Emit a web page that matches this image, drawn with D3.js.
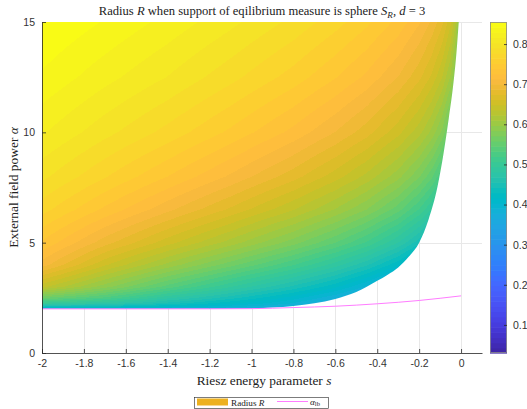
<!DOCTYPE html>
<html>
<head>
<meta charset="utf-8">
<script src="https://cdn.jsdelivr.net/npm/d3@7"></script>
<style>
  body { margin: 0; background: #fff; }
  svg { display: block; }
</style>
</head>
<body>
<div id="chart"></div>
<script>
// grid of the surface: columns = s, rows = alpha
const sGrid = [-2, -1.7, -1.4, -1.1, -0.8, -0.6, -0.45, -0.3, -0.2, -0.14, -0.09, -0.05, -0.025, -0.01];
const alphaGrid = [2, 2.25, 2.5, 3, 4, 5, 6.5, 8, 10, 12.5, 15];
const radiusGrid = [
  [0.400, 0.400, 0.390, 0.380, 0.362, 0.340, 0.300, 0.250, 0.210, 0.180, 0.150, 0.110, 0.080, 0.050],
  [0.500, 0.480, 0.450, 0.420, 0.390, 0.360, 0.330, 0.280, 0.240, 0.210, 0.175, 0.135, 0.100, 0.066],
  [0.560, 0.530, 0.485, 0.448, 0.410, 0.380, 0.350, 0.305, 0.265, 0.232, 0.196, 0.156, 0.120, 0.083],
  [0.640, 0.590, 0.540, 0.495, 0.452, 0.420, 0.388, 0.345, 0.305, 0.274, 0.240, 0.199, 0.159, 0.118],
  [0.707, 0.651, 0.606, 0.564, 0.521, 0.488, 0.458, 0.419, 0.383, 0.353, 0.319, 0.277, 0.235, 0.187],
  [0.737, 0.693, 0.654, 0.617, 0.577, 0.546, 0.518, 0.481, 0.447, 0.418, 0.385, 0.344, 0.300, 0.251],
  [0.770, 0.736, 0.704, 0.672, 0.637, 0.609, 0.584, 0.551, 0.519, 0.493, 0.462, 0.423, 0.381, 0.331],
  [0.794, 0.766, 0.739, 0.711, 0.680, 0.655, 0.632, 0.602, 0.573, 0.549, 0.521, 0.485, 0.445, 0.397],
  [0.818, 0.795, 0.773, 0.749, 0.722, 0.700, 0.680, 0.653, 0.628, 0.606, 0.581, 0.548, 0.512, 0.467],
  [0.840, 0.821, 0.803, 0.782, 0.759, 0.740, 0.723, 0.700, 0.678, 0.659, 0.636, 0.608, 0.575, 0.535],
  [0.856, 0.841, 0.825, 0.807, 0.787, 0.770, 0.755, 0.735, 0.715, 0.698, 0.678, 0.652, 0.623, 0.586]
];

// lower / right edge of the region where the support is a sphere
const edgeS = [-2, -1.2, -1.0, -0.9, -0.8, -0.7, -0.6, -0.55, -0.5, -0.45, -0.4, -0.35, -0.3, -0.25, -0.2, -0.155, -0.112, -0.083, -0.059, -0.038, -0.022, -0.011];
const edgeAlpha = [2.0, 2.0, 2.02, 2.06, 2.13, 2.25, 2.45, 2.59, 2.77, 3.0, 3.27, 3.55, 3.88, 4.36, 5.0, 6.05, 7.56, 9.08, 10.6, 12.1, 13.6, 15];

// alpha_lb curve
const lbS = [-2, -1.6, -1.2, -1.0, -0.8, -0.6, -0.4, -0.2, -0.1, 0];
const lbAlpha = [2.0, 2.0, 2.003, 2.01, 2.06, 2.12, 2.23, 2.38, 2.48, 2.59];

const xTicks = [-2, -1.8, -1.6, -1.4, -1.2, -1, -0.8, -0.6, -0.4, -0.2, 0];
const yTicks = [0, 5, 10, 15];
const cbTicks = [0.1, 0.2, 0.3, 0.4, 0.5, 0.6, 0.7, 0.8];
const colorLimits = [0.03, 0.855];

// parula, 64 colours
const parula = [
  [0.2422,0.1504,0.6603],[0.2504,0.1650,0.7076],[0.2578,0.1818,0.7511],[0.2647,0.1978,0.7952],
  [0.2706,0.2147,0.8364],[0.2751,0.2342,0.8710],[0.2783,0.2559,0.8991],[0.2803,0.2782,0.9221],
  [0.2813,0.3006,0.9414],[0.2810,0.3228,0.9579],[0.2795,0.3447,0.9717],[0.2760,0.3667,0.9829],
  [0.2699,0.3892,0.9906],[0.2602,0.4123,0.9952],[0.2440,0.4358,0.9988],[0.2206,0.4603,0.9973],
  [0.1963,0.4847,0.9892],[0.1834,0.5074,0.9798],[0.1786,0.5289,0.9682],[0.1764,0.5499,0.9520],
  [0.1687,0.5703,0.9359],[0.1540,0.5902,0.9218],[0.1460,0.6091,0.9079],[0.1380,0.6276,0.8973],
  [0.1248,0.6459,0.8883],[0.1113,0.6635,0.8763],[0.0952,0.6798,0.8598],[0.0689,0.6948,0.8394],
  [0.0297,0.7082,0.8163],[0.0036,0.7203,0.7917],[0.0067,0.7312,0.7660],[0.0433,0.7411,0.7394],
  [0.0964,0.7500,0.7120],[0.1408,0.7584,0.6842],[0.1717,0.7670,0.6554],[0.1938,0.7758,0.6251],
  [0.2161,0.7843,0.5923],[0.2470,0.7918,0.5567],[0.2906,0.7973,0.5188],[0.3406,0.8008,0.4789],
  [0.3909,0.8029,0.4354],[0.4456,0.8024,0.3909],[0.5044,0.7993,0.3480],[0.5616,0.7942,0.3045],
  [0.6174,0.7876,0.2612],[0.6720,0.7793,0.2227],[0.7242,0.7698,0.1910],[0.7738,0.7598,0.1646],
  [0.8203,0.7498,0.1535],[0.8634,0.7406,0.1596],[0.9035,0.7330,0.1774],[0.9393,0.7288,0.2100],
  [0.9728,0.7298,0.2394],[0.9956,0.7434,0.2371],[0.9970,0.7659,0.2199],[0.9952,0.7893,0.2028],
  [0.9892,0.8136,0.1885],[0.9786,0.8386,0.1766],[0.9676,0.8639,0.1643],[0.9610,0.8890,0.1537],
  [0.9597,0.9135,0.1423],[0.9628,0.9373,0.1265],[0.9691,0.9606,0.1064],[0.9769,0.9839,0.0805]
].map(c => d3.rgb(c[0] * 255, c[1] * 255, c[2] * 255));

const W = 527, H = 409;
const plot = { left: 42, right: 482, top: 22, bottom: 353 };
const serif = "'Liberation Serif', 'DejaVu Serif', serif";
const sans = "'Liberation Sans', Arial, sans-serif";
const axisColor = "#262626";

const svg = d3.select("#chart").append("svg").attr("width", W).attr("height", H);

const x = d3.scaleLinear().domain([-2, 0.1]).range([plot.left, plot.right]);
const y = d3.scaleLinear().domain([0, 15]).range([plot.bottom, plot.top]);
const colour = d3.scaleQuantize().domain(colorLimits).range(parula);

// grid lines
const grid = svg.append("g").attr("stroke", "#e8e8e8").attr("stroke-width", 1);
grid.selectAll(".gx").data(xTicks.slice(1)).enter().append("line")
  .attr("x1", d => Math.round(x(d)) + 0.5).attr("x2", d => Math.round(x(d)) + 0.5)
  .attr("y1", plot.top).attr("y2", plot.bottom);
grid.selectAll(".gy").data(yTicks.slice(1)).enter().append("line")
  .attr("y1", d => Math.round(y(d)) + 0.5).attr("y2", d => Math.round(y(d)) + 0.5)
  .attr("x1", plot.left).attr("x2", plot.right);

// surface, shaded like matlab's "shading interp"
function locate(arr, v) {
  let i = d3.bisectRight(arr, v) - 1;
  i = Math.max(0, Math.min(arr.length - 2, i));
  let t = (v - arr[i]) / (arr[i + 1] - arr[i]);
  return [i, Math.max(0, Math.min(1, t))];
}
function radiusAt(s, a) {
  const [j, u] = locate(sGrid, s);
  const [i, v] = locate(alphaGrid, a);
  const r0 = radiusGrid[i][j] * (1 - u) + radiusGrid[i][j + 1] * u;
  const r1 = radiusGrid[i + 1][j] * (1 - u) + radiusGrid[i + 1][j + 1] * u;
  return r0 * (1 - v) + r1 * v;
}

const cw = plot.right - plot.left, ch = plot.bottom - plot.top;
const canvas = document.createElement("canvas");
canvas.width = cw; canvas.height = ch;
const ctx = canvas.getContext("2d");
const img = ctx.createImageData(cw, ch);
for (let py = 0; py < ch; py++) {
  const a = y.invert(plot.top + py + 0.5);
  for (let px = 0; px < cw; px++) {
    const s = x.invert(plot.left + px + 0.5);
    const c = colour(radiusAt(s, a));
    const k = (py * cw + px) * 4;
    img.data[k] = c.r; img.data[k + 1] = c.g; img.data[k + 2] = c.b; img.data[k + 3] = 255;
  }
}
ctx.putImageData(img, 0, 0);

const edgePts = edgeS.map((s, i) => [s, edgeAlpha[i]]);
const edgeLine = d3.line().x(d => x(d[0])).y(d => y(d[1])).curve(d3.curveMonotoneX);
svg.append("clipPath").attr("id", "region")
  .append("path")
  .attr("d", edgeLine(edgePts) + `L${x(-2)},${y(15)}Z`);

svg.append("image")
  .attr("x", plot.left).attr("y", plot.top)
  .attr("width", cw).attr("height", ch)
  .attr("preserveAspectRatio", "none")
  .attr("href", canvas.toDataURL())
  .attr("clip-path", "url(#region)");

// alpha_lb
const lbPts = lbS.map((s, i) => [s, lbAlpha[i]]);
svg.append("path")
  .attr("d", edgeLine(lbPts))
  .attr("fill", "none")
  .attr("stroke", "#ff7cff")
  .attr("stroke-width", 1);

// axes
const xAxis = d3.axisBottom(x).tickValues(xTicks).tickFormat(d => String(d))
  .tickSizeInner(-4).tickSizeOuter(0).tickPadding(7);
const yAxis = d3.axisLeft(y).tickValues(yTicks).tickFormat(d => String(d))
  .tickSizeInner(-4).tickSizeOuter(0).tickPadding(7);

function styleAxis(g) {
  g.select(".domain").attr("stroke", axisColor).attr("stroke-width", 0.8);
  g.selectAll(".tick line").attr("stroke", axisColor).attr("stroke-width", 0.8);
  g.selectAll(".tick text").attr("fill", "#333").style("font-family", sans).style("font-size", "10.5px");
}
svg.append("g").attr("transform", `translate(0,${plot.bottom})`).call(xAxis).call(styleAxis);
svg.append("g").attr("transform", `translate(${plot.left},0)`).call(yAxis).call(styleAxis);

// rich text helper: parts = [text, italic, sub]
function rich(sel, parts) {
  parts.forEach(p => {
    const t = sel.append("tspan").text(p[0]);
    if (p[1]) t.attr("font-style", "italic");
    if (p[2] === "sub") t.attr("font-size", "0.72em").attr("dy", "0.3em");
    if (p[2] === "up") t.attr("dy", "-0.22em");
  });
}

const title = svg.append("text")
  .attr("x", (plot.left + plot.right) / 2).attr("y", 15)
  .attr("text-anchor", "middle")
  .style("font-family", serif).style("font-size", "12.6px").attr("fill", "#222");
rich(title, [["Radius "], ["R", true], [" when support of eqilibrium measure is sphere "], ["S", true],
  ["R", true, "sub"], [", ", false, "up"], ["d", true], [" = 3"]]);

const xlab = svg.append("text")
  .attr("x", (plot.left + plot.right) / 2 + 2).attr("y", 385)
  .attr("text-anchor", "middle")
  .style("font-family", serif).style("font-size", "13.4px").attr("fill", "#222");
rich(xlab, [["Riesz energy parameter "], ["s", true]]);

const ylab = svg.append("text")
  .attr("transform", `translate(18,${(plot.top + plot.bottom) / 2}) rotate(-90)`)
  .attr("text-anchor", "middle")
  .style("font-family", serif).style("font-size", "13.4px").attr("fill", "#222");
rich(ylab, [["External field power "], ["α", true]]);

// colorbar
const cb = { left: 490, right: 507 };
const cbScale = d3.scaleLinear().domain(colorLimits).range([plot.bottom, plot.top]);
const cbG = svg.append("g");
cbG.selectAll("rect").data(parula).enter().append("rect")
  .attr("x", cb.left).attr("width", cb.right - cb.left)
  .attr("y", d => cbScale(colour.invertExtent(d)[1]))
  .attr("height", d => cbScale(colour.invertExtent(d)[0]) - cbScale(colour.invertExtent(d)[1]) + 0.6)
  .attr("fill", d => d);
cbG.append("rect")
  .attr("x", cb.left + 0.5).attr("y", plot.top + 0.5)
  .attr("width", cb.right - cb.left - 1).attr("height", plot.bottom - plot.top - 1)
  .attr("fill", "none").attr("stroke", "#8c8c8c").attr("stroke-width", 0.8);
const cbAxis = d3.axisRight(cbScale).tickValues(cbTicks).tickFormat(d => String(d))
  .tickSizeInner(-3).tickSizeOuter(0).tickPadding(6);
svg.append("g").attr("transform", `translate(${cb.right},0)`).call(cbAxis)
  .call(g => g.select(".domain").remove())
  .call(g => {
    g.selectAll(".tick line").attr("stroke", axisColor).attr("stroke-width", 0.8);
    g.selectAll(".tick text").attr("fill", "#333").style("font-family", sans).style("font-size", "10.5px");
  });

// legend
const lg = svg.append("g");
lg.append("rect").attr("x", 194.5).attr("y", 397.5).attr("width", 134).attr("height", 11)
  .attr("fill", "#fff").attr("stroke", "#262626").attr("stroke-width", 0.6);
lg.append("rect").attr("x", 197).attr("y", 398.5).attr("width", 31).attr("height", 7)
  .attr("fill", "#EDB120");
const lt1 = lg.append("text").attr("x", 231).attr("y", 405.5)
  .style("font-family", serif).style("font-size", "9.2px").attr("fill", "#222");
rich(lt1, [["Radius "], ["R", true]]);
lg.append("line").attr("x1", 277).attr("x2", 308).attr("y1", 401.5).attr("y2", 401.5)
  .attr("stroke", "#ff7cff").attr("stroke-width", 1);
const lt2 = lg.append("text").attr("x", 310).attr("y", 404.5)
  .style("font-family", serif).style("font-size", "9.2px").attr("fill", "#222");
rich(lt2, [["α", true], ["lb", false, "sub"]]);
</script>
</body>
</html>
